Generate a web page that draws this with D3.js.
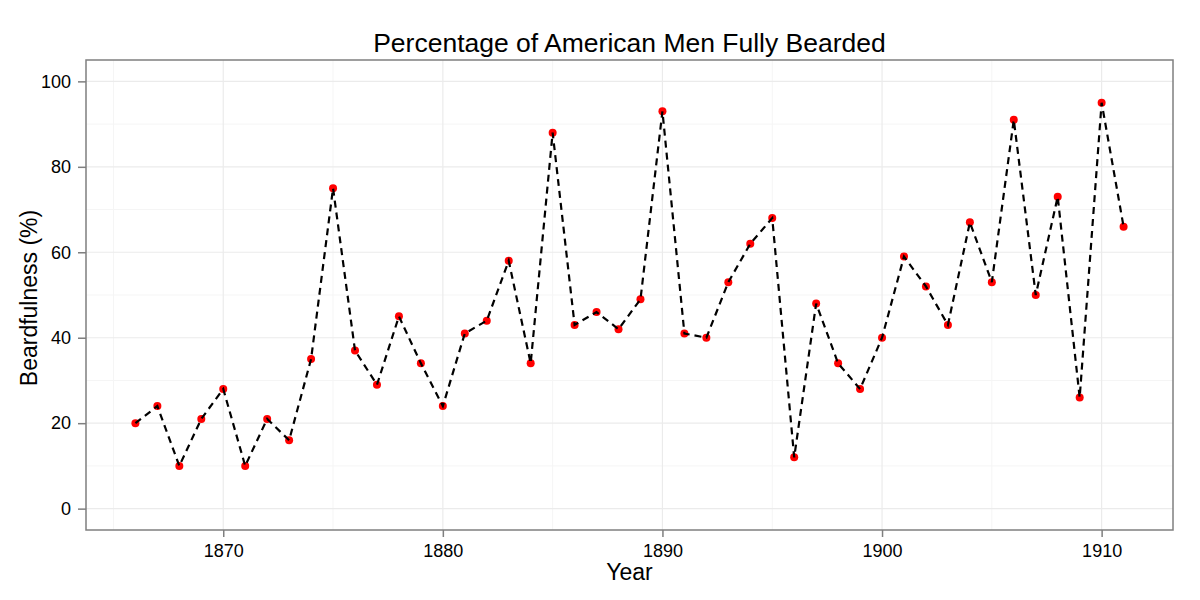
<!DOCTYPE html>
<html><head><meta charset="utf-8">
<script src="https://cdn.jsdelivr.net/npm/d3@7"></script>
<style>body{margin:0;background:#fff}svg{display:block}text{font-family:"Liberation Sans",Arial,sans-serif}</style>
</head><body>
<svg id="c" width="1200" height="600"></svg>
<script>
const years = d3.range(1866, 1912);
const beardfulness = [20,24,10,21,28,10,21,16,35,75,37,29,45,34,24,41,44,58,34,88,43,46,42,49,93,41,40,53,62,68,12,48,34,28,40,59,52,43,67,53,91,50,73,26,95,66];
const xTicks = [1870,1880,1890,1900,1910];
const xMinor = [1865,1875,1885,1895,1905];
const yTicks = [0,20,40,60,80,100];
const yMinor = [10,30,50,70,90];
const data = years.map((y,i)=>({year:y, value:beardfulness[i]}));

const svg = d3.select("#c");
const L=86, R=1173, T=60, B=530;
const x = d3.scaleLinear().domain([1863.75,1913.25]).range([L,R]);
const y = d3.scaleLinear().domain([-5,105]).range([B,T]);

// minor grid
svg.append("g").selectAll("line").data(yMinor).join("line")
  .attr("x1",L).attr("x2",R).attr("y1",d=>y(d)).attr("y2",d=>y(d))
  .attr("stroke","#f5f5f5").attr("stroke-width",1);
svg.append("g").selectAll("line").data(xMinor).join("line")
  .attr("y1",T).attr("y2",B).attr("x1",d=>x(d)).attr("x2",d=>x(d))
  .attr("stroke","#f5f5f5").attr("stroke-width",1);
// major grid
svg.append("g").selectAll("line").data(yTicks).join("line")
  .attr("x1",L).attr("x2",R).attr("y1",d=>y(d)).attr("y2",d=>y(d))
  .attr("stroke","#ebebeb").attr("stroke-width",1.2);
svg.append("g").selectAll("line").data(xTicks).join("line")
  .attr("y1",T).attr("y2",B).attr("x1",d=>x(d)).attr("x2",d=>x(d))
  .attr("stroke","#ebebeb").attr("stroke-width",1.2);

// axes
const xAxis = svg.append("g").attr("transform",`translate(0,${B})`)
  .call(d3.axisBottom(x).tickValues(xTicks).tickFormat(d3.format("d")).tickSize(7).tickPadding(7));
const yAxis = svg.append("g").attr("transform",`translate(${L},0)`)
  .call(d3.axisLeft(y).tickValues(yTicks).tickSize(8).tickPadding(7));
[xAxis,yAxis].forEach(a=>{
  a.select(".domain").remove();
  a.selectAll(".tick line").attr("stroke","#7f7f7f").attr("stroke-width",1.5);
  a.selectAll(".tick text").attr("fill","#000").style("font-size","18px")
   .style("font-family",'"Liberation Sans",Arial,sans-serif');
});

// points
svg.append("g").selectAll("circle").data(data).join("circle")
  .attr("cx",d=>x(d.year)).attr("cy",d=>y(d.value)).attr("r",4).attr("fill","#ff0000");
// line
svg.append("path").datum(data)
  .attr("d",d3.line().x(d=>x(d.year)).y(d=>y(d.value)))
  .attr("fill","none").attr("stroke","#000").attr("stroke-width",2.2).attr("stroke-dasharray","7,5");

// panel border
svg.append("rect").attr("x",L).attr("y",T).attr("width",R-L).attr("height",B-T)
  .attr("fill","none").attr("stroke","#7f7f7f").attr("stroke-width",1.5);

// titles
svg.append("text").attr("x",(L+R)/2).attr("y",52).attr("text-anchor","middle")
  .style("font-size","26.5px").attr("fill","#000").text("Percentage of American Men Fully Bearded");
svg.append("text").attr("x",(L+R)/2).attr("y",580).attr("text-anchor","middle")
  .style("font-size","23px").attr("fill","#000").text("Year");
svg.append("text").attr("transform",`translate(37,298) rotate(-90)`).attr("text-anchor","middle")
  .style("font-size","23px").attr("fill","#000").text("Beardfulness (%)");
</script>
</body></html>
